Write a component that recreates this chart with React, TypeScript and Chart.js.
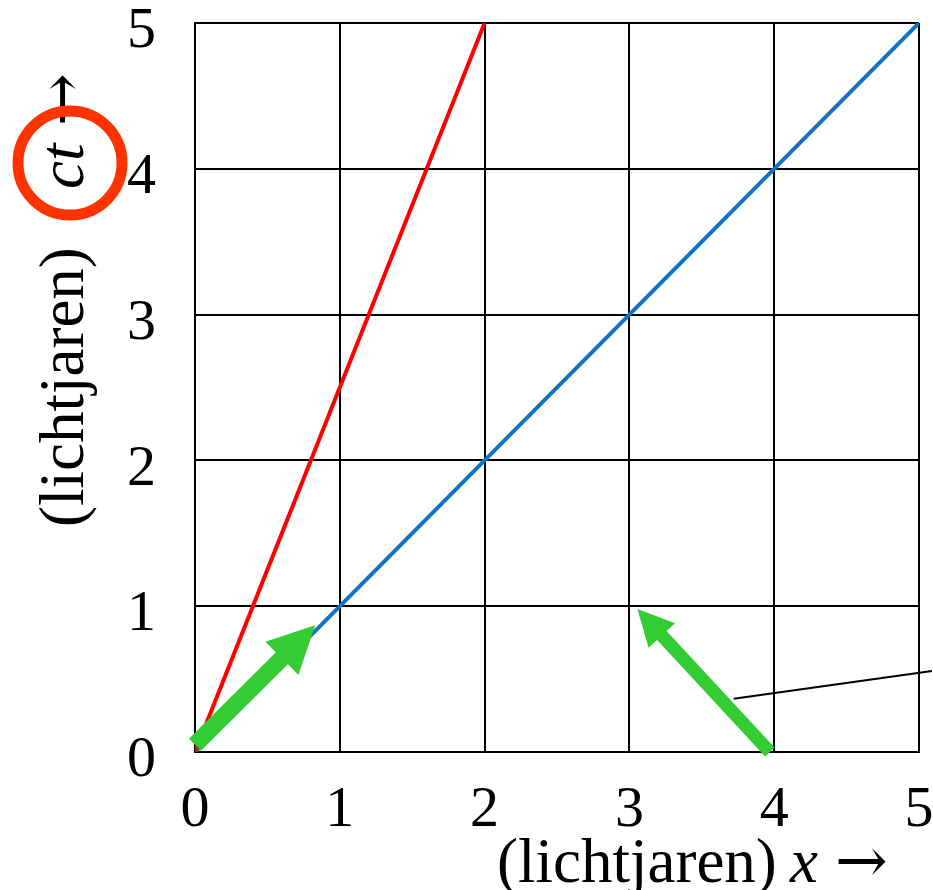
import React, { useEffect, useRef } from "react";
import { Chart, registerables } from "chart.js";

Chart.register(...registerables);

const xTicks = [0, 1, 2, 3, 4, 5];
const yTicks = [0, 1, 2, 3, 4, 5];

const redX = [0, 2];
const redY = [0, 5];
const blueX = [0, 5];
const blueY = [0, 5];

// green arrows: [tailX, tailY, tipX, tipY]
const arrow1 = [0.0, 0.05, 0.83, 0.87];
const arrow2 = [3.97, 0.0, 3.055, 0.98];
// thin pointer line
const pointerX = [3.72, 5.09];
const pointerY = [0.366, 0.555];

const xTitle = "(lichtjaren)";
const xVar = "x";
const yTitle = "(lichtjaren)";
const yVar = "ct";
const arrowGlyph = "→";

const SERIF = '"Liberation Serif", "Times New Roman", serif';
const ARROWFONT = '"DejaVu Serif", serif';

function drawArrow(ctx: CanvasRenderingContext2D, x1: number, y1: number, x2: number, y2: number, shaft: number, headW: number, headL: number, color: string) {
  const dx = x2 - x1, dy = y2 - y1;
  const len = Math.hypot(dx, dy);
  const ux = dx / len, uy = dy / len;
  const px = -uy, py = ux;
  const bx = x2 - ux * headL, by = y2 - uy * headL;
  ctx.save();
  ctx.fillStyle = color;
  ctx.beginPath();
  ctx.moveTo(x1 + px * shaft / 2, y1 + py * shaft / 2);
  ctx.lineTo(bx + px * shaft / 2, by + py * shaft / 2);
  ctx.lineTo(bx + px * headW / 2, by + py * headW / 2);
  ctx.lineTo(x2, y2);
  ctx.lineTo(bx - px * headW / 2, by - py * headW / 2);
  ctx.lineTo(bx - px * shaft / 2, by - py * shaft / 2);
  ctx.lineTo(x1 - px * shaft / 2, y1 - py * shaft / 2);
  ctx.closePath();
  ctx.fill();
  ctx.restore();
}

const overlayPlugin = {
  id: "overlay",
  afterDatasetsDraw(chart: any) {
    const ctx: CanvasRenderingContext2D = chart.ctx;
    const xs = chart.scales.x, ys = chart.scales.y;
    const X = (v: number) => xs.getPixelForValue(v);
    const Y = (v: number) => ys.getPixelForValue(v);

    drawArrow(ctx, X(arrow1[0]), Y(arrow1[1]), X(arrow1[2]), Y(arrow1[3]), 17, 47, 47, "#33cc33");
    drawArrow(ctx, X(arrow2[0]), Y(arrow2[1]), X(arrow2[2]), Y(arrow2[3]), 13, 36, 36, "#33cc33");

    ctx.save();
    ctx.strokeStyle = "#000";
    ctx.lineWidth = 2;
    ctx.beginPath();
    ctx.moveTo(X(pointerX[0]), Y(pointerY[0]));
    ctx.lineTo(X(pointerX[1]), Y(pointerY[1]));
    ctx.stroke();
    ctx.restore();
  },
  afterDraw(chart: any) {
    const ctx: CanvasRenderingContext2D = chart.ctx;
    const fs = 63;
    ctx.save();
    ctx.fillStyle = "#000";
    ctx.textBaseline = "alphabetic";
    ctx.textAlign = "left";
    // x-axis title
    const base = 882;
    ctx.font = `${fs}px ${SERIF}`;
    ctx.fillText(xTitle, 497, base);
    ctx.font = `italic ${fs}px ${SERIF}`;
    ctx.fillText(xVar, 790, base);
    ctx.font = `${fs}px ${ARROWFONT}`;
    ctx.fillText(arrowGlyph, 835, base);
    ctx.restore();

    // y-axis title (rotated)
    ctx.save();
    ctx.fillStyle = "#000";
    ctx.translate(83, 527);
    ctx.rotate(-Math.PI / 2);
    ctx.textBaseline = "alphabetic";
    ctx.textAlign = "left";
    ctx.font = `${fs}px ${SERIF}`;
    ctx.fillText(yTitle, 0, 0);
    ctx.font = `italic ${fs}px ${SERIF}`;
    ctx.fillText(yVar, 338, 0);
    ctx.font = `${fs}px ${ARROWFONT}`;
    ctx.fillText(arrowGlyph, 401, 0);
    ctx.restore();

    // orange circle
    ctx.save();
    ctx.strokeStyle = "#ff3300";
    ctx.lineWidth = 11;
    ctx.beginPath();
    ctx.arc(70, 163, 52, 0, Math.PI * 2);
    ctx.stroke();
    ctx.restore();
  },
};

export default function App() {
  const ref = useRef<HTMLCanvasElement>(null);
  useEffect(() => {
    document.body.style.margin = "0";
    const canvas = ref.current!;
    const chart = new Chart(canvas, {
      type: "scatter",
      data: {
        datasets: [
          {
            data: redX.map((v, i) => ({ x: v, y: redY[i] })),
            showLine: true,
            borderColor: "#ff0000",
            borderWidth: 4,
            pointRadius: 0,
          },
          {
            data: blueX.map((v, i) => ({ x: v, y: blueY[i] })),
            showLine: true,
            borderColor: "#1272c4",
            borderWidth: 4,
            pointRadius: 0,
          },
        ],
      },
      options: {
        animation: false,
        responsive: false,
        layout: { padding: { left: 0, top: 23, right: 14, bottom: 0 } },
        plugins: { legend: { display: false }, tooltip: { enabled: false } },
        scales: {
          x: {
            type: "linear",
            min: 0,
            max: 5,
            afterBuildTicks: (s: any) => { s.ticks = xTicks.map((v) => ({ value: v })); },
            ticks: { color: "#000", font: { family: SERIF, size: 58 }, padding: 24, maxRotation: 0 },
            grid: { color: "#000", lineWidth: 2, drawTicks: false },
            border: { color: "#000", width: 2 },
            afterFit: (s: any) => { s.height = 138; s.paddingLeft = 0; s.paddingRight = 0; },
          },
          y: {
            type: "linear",
            min: 0,
            max: 5,
            afterBuildTicks: (s: any) => { s.ticks = yTicks.map((v) => ({ value: v })); },
            ticks: { color: "#000", font: { family: SERIF, size: 58 }, padding: 39, labelOffset: 9 },
            grid: { color: "#000", lineWidth: 2, drawTicks: false },
            border: { color: "#000", width: 2 },
            afterFit: (s: any) => { s.width = 195; s.paddingTop = 0; s.paddingBottom = 0; },
          },
        },
      },
      plugins: [overlayPlugin],
    });
    return () => chart.destroy();
  }, []);
  return <canvas ref={ref} width={933} height={890} style={{ display: "block" }} />;
}
